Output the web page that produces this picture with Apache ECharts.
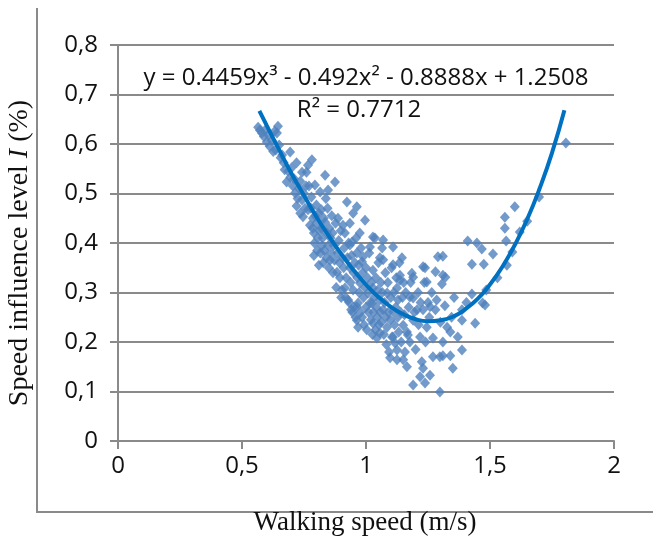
<!DOCTYPE html>
<html>
<head>
<meta charset="utf-8">
<script src="https://cdn.jsdelivr.net/npm/echarts@6/dist/echarts.min.js"></script>
<style>html,body{margin:0;padding:0;background:#fff;}#c{width:653px;height:545px;}</style>
</head>
<body>
<div id="c"></div>
<script>
// Tick values
const xTicks = [0, 0.5, 1, 1.5, 2];
const yTicks = [0, 0.1, 0.2, 0.3, 0.4, 0.5, 0.6, 0.7, 0.8];

// Observed points [walking speed (m/s), speed influence level]
const pointsA = [[0.565,0.634],[0.572,0.628],[0.58,0.622],[0.588,0.615],[0.593,0.628],[0.60,0.604],[0.606,0.618],[0.612,0.595],[0.62,0.607],[0.626,0.585],[0.632,0.626],[0.636,0.588],[0.641,0.622],[0.645,0.636],[0.65,0.598],[0.656,0.572],[0.662,0.578]];
const pointsB = [[0.668,0.562],[0.672,0.548],[0.68,0.523],[0.686,0.545],[0.694,0.584],[0.695,0.533],[0.70,0.552],[0.705,0.515],[0.71,0.53],[0.714,0.501],[0.72,0.562],[0.724,0.49],[0.73,0.51],[0.735,0.525],[0.742,0.543],[0.742,0.487],[0.746,0.453],[0.75,0.5],[0.754,0.47],[0.758,0.515],[0.76,0.543],[0.766,0.557],[0.766,0.467],[0.72,0.475],[0.735,0.46]];
const pointsC = [[0.77,0.515],[0.774,0.436],[0.778,0.47],[0.78,0.493],[0.782,0.568],[0.785,0.43],[0.786,0.45],[0.79,0.42],[0.792,0.40],[0.794,0.517],[0.796,0.455],[0.80,0.477],[0.80,0.44],[0.803,0.385],[0.806,0.41],[0.81,0.46],[0.812,0.425],[0.815,0.503],[0.816,0.38],[0.82,0.467],[0.82,0.43],[0.822,0.395],[0.825,0.41],[0.828,0.36],[0.83,0.45],[0.832,0.385],[0.835,0.537],[0.835,0.442],[0.838,0.49],[0.84,0.37],[0.842,0.42],[0.845,0.47],[0.847,0.507],[0.848,0.395],[0.85,0.35],[0.852,0.43],[0.855,0.365],[0.857,0.41],[0.86,0.38],[0.862,0.455],[0.79,0.375],[0.81,0.355]];
const pointsD = [[0.865,0.42],[0.867,0.34],[0.87,0.395],[0.873,0.365],[0.875,0.523],[0.877,0.44],[0.88,0.31],[0.883,0.341],[0.885,0.38],[0.887,0.45],[0.89,0.405],[0.893,0.36],[0.895,0.33],[0.898,0.425],[0.90,0.29],[0.903,0.305],[0.905,0.37],[0.907,0.436],[0.91,0.35],[0.912,0.39],[0.915,0.42],[0.915,0.309],[0.918,0.29],[0.92,0.33],[0.923,0.483],[0.925,0.37],[0.928,0.285],[0.93,0.4],[0.932,0.28],[0.935,0.44],[0.935,0.35],[0.935,0.396],[0.938,0.32],[0.94,0.265],[0.942,0.375],[0.944,0.402],[0.945,0.26],[0.948,0.46],[0.948,0.305],[0.95,0.34],[0.952,0.27],[0.955,0.36],[0.958,0.25],[0.96,0.41],[0.963,0.473],[0.963,0.38],[0.963,0.271],[0.963,0.244]];
const pointsE = [[0.965,0.33],[0.968,0.279],[0.968,0.23],[0.97,0.355],[0.972,0.3],[0.975,0.42],[0.976,0.319],[0.978,0.26],[0.98,0.39],[0.984,0.362],[0.984,0.25],[0.986,0.34],[0.988,0.372],[0.99,0.29],[0.992,0.235],[0.995,0.31],[0.996,0.446],[1.0,0.27],[1.0,0.35],[1.003,0.225],[1.006,0.33],[1.008,0.299],[1.01,0.26],[1.013,0.38],[1.016,0.392],[1.016,0.279],[1.02,0.245],[1.022,0.32],[1.024,0.279],[1.026,0.215],[1.028,0.345],[1.028,0.309],[1.028,0.238],[1.028,0.412],[1.03,0.26],[1.033,0.29],[1.036,0.41],[1.038,0.225],[1.04,0.33],[1.042,0.27],[1.044,0.208],[1.046,0.25],[1.048,0.305],[1.05,0.36],[1.052,0.235],[1.055,0.285],[1.056,0.37],[1.056,0.218],[1.058,0.26],[1.06,0.32]];
const pointsF = [[1.062,0.24],[1.065,0.39],[1.066,0.3],[1.069,0.406],[1.069,0.366],[1.069,0.265],[1.072,0.215],[1.075,0.28],[1.078,0.34],[1.08,0.25],[1.082,0.195],[1.085,0.299],[1.085,0.23],[1.088,0.32],[1.09,0.26],[1.093,0.18],[1.097,0.168],[1.098,0.245],[1.1,0.29],[1.103,0.35],[1.105,0.21],[1.109,0.392],[1.109,0.356],[1.109,0.261],[1.109,0.21],[1.112,0.3],[1.115,0.235],[1.117,0.198],[1.12,0.27],[1.122,0.33],[1.125,0.309],[1.125,0.184],[1.125,0.164],[1.128,0.25],[1.129,0.285],[1.132,0.22],[1.135,0.36],[1.137,0.335],[1.137,0.325],[1.14,0.26],[1.142,0.2],[1.145,0.37],[1.147,0.29],[1.15,0.234],[1.15,0.164],[1.152,0.32],[1.155,0.255],[1.157,0.18],[1.16,0.3]];
const pointsG = [[1.165,0.22],[1.165,0.15],[1.169,0.214],[1.172,0.27],[1.177,0.291],[1.177,0.2],[1.18,0.32],[1.185,0.339],[1.19,0.331],[1.19,0.289],[1.19,0.244],[1.19,0.113],[1.195,0.26],[1.2,0.185],[1.206,0.265],[1.21,0.3],[1.212,0.235],[1.218,0.21],[1.218,0.13],[1.22,0.28],[1.225,0.16],[1.23,0.352],[1.23,0.265],[1.23,0.147],[1.235,0.32],[1.238,0.35],[1.238,0.117],[1.24,0.2],[1.245,0.321],[1.245,0.23],[1.25,0.28],[1.255,0.25],[1.258,0.271],[1.258,0.133]];
const pointsH = [[1.265,0.3],[1.27,0.208],[1.27,0.17],[1.28,0.342],[1.28,0.265],[1.285,0.285],[1.29,0.372],[1.298,0.17],[1.298,0.099],[1.3,0.24],[1.306,0.317],[1.31,0.373],[1.31,0.335],[1.31,0.2],[1.31,0.172],[1.318,0.273],[1.32,0.331],[1.327,0.23],[1.34,0.22],[1.34,0.172],[1.345,0.25],[1.35,0.147],[1.355,0.29]];
const pointsI = [[1.37,0.21],[1.387,0.265],[1.387,0.244],[1.387,0.184],[1.405,0.28],[1.41,0.404],[1.427,0.357],[1.427,0.297],[1.44,0.238],[1.447,0.4],[1.467,0.388],[1.47,0.279],[1.475,0.357],[1.48,0.275],[1.485,0.305],[1.512,0.378],[1.53,0.33],[1.56,0.452],[1.56,0.43],[1.565,0.404],[1.568,0.355],[1.59,0.382],[1.60,0.473],[1.62,0.422],[1.65,0.444],[1.698,0.493],[1.806,0.602]];

// Trend line (cubic fit)
const trendX = [0.57,0.6,0.65,0.7,0.75,0.8,0.85,0.9,0.95,1.0,1.05,1.1,1.15,1.2,1.25,1.3,1.35,1.4,1.45,1.5,1.55,1.6,1.65,1.7,1.75,1.8];
const trendY = [0.667,0.637,0.588,0.540,0.496,0.453,0.414,0.378,0.345,0.316,0.291,0.271,0.256,0.246,0.242,0.244,0.251,0.266,0.287,0.316,0.352,0.396,0.448,0.510,0.582,0.668];

const equationText = 'y = 0.4459x\u00B3 - 0.492x\u00B2 - 0.8888x + 1.2508';
const r2Text = 'R\u00B2 = 0.7712';

const scatterData = [].concat(pointsA, pointsB, pointsC, pointsD, pointsE, pointsF, pointsG, pointsH, pointsI);
const trendData = trendX.map((x, i) => [x, trendY[i]]);

const grey = '#8a8a8a';
const fmt = v => (v === 0 ? '0' : String(+v.toFixed(1)).replace('.', ','));

const chart = echarts.init(document.getElementById('c'), null, {renderer: 'canvas'});
chart.setOption({
  animation: false,
  backgroundColor: '#fff',
  grid: {left: 118, right: 39, top: 45, bottom: 104, containLabel: false},
  xAxis: {
    type: 'value', min: 0, max: 2, interval: 0.5,
    axisLine: {show: true, lineStyle: {color: grey, width: 2}},
    axisTick: {show: true, length: 8, lineStyle: {color: grey, width: 2}},
    splitLine: {show: false},
    axisLabel: {formatter: fmt, color: '#111', fontSize: 24, fontFamily: 'Open Sans', margin: 13}
  },
  yAxis: {
    type: 'value', min: 0, max: 0.8, interval: 0.1,
    axisLine: {show: true, lineStyle: {color: grey, width: 2}},
    axisTick: {show: true, length: 8, lineStyle: {color: grey, width: 2}},
    splitLine: {show: true, lineStyle: {color: grey, width: 2}},
    axisLabel: {formatter: fmt, color: '#111', fontSize: 24, fontFamily: 'Open Sans', margin: 20}
  },
  series: [
    {
      type: 'scatter', data: scatterData, symbol: 'diamond', symbolSize: [10, 11],
      itemStyle: {color: '#4F81BD'}, z: 2
    },
    {
      type: 'line', data: trendData, smooth: true, showSymbol: false,
      lineStyle: {color: '#0070C0', width: 4}, z: 3
    }
  ],
  graphic: [
    {type: 'line', shape: {x1: 37, y1: 8, x2: 37, y2: 512}, style: {stroke: grey, lineWidth: 2}},
    {type: 'line', shape: {x1: 36, y1: 512, x2: 653, y2: 512}, style: {stroke: grey, lineWidth: 2}},
    {type: 'text', x: 366, y: 78, style: {text: equationText, fontSize: 24, fontFamily: 'Open Sans', fill: '#111', align: 'center', verticalAlign: 'middle'}},
    {type: 'text', x: 359, y: 110, style: {text: r2Text, fontSize: 24, fontFamily: 'Open Sans', fill: '#111', align: 'center', verticalAlign: 'middle'}},
    {type: 'text', x: 365, y: 523, style: {text: 'Walking speed (m/s)', fontSize: 27, fontFamily: 'Liberation Serif', fill: '#111', align: 'center', verticalAlign: 'middle'}},
    {type: 'text', x: 20, y: 253, rotation: Math.PI / 2,
      style: {
        text: '{a|Speed influence level }{i|I}{a| (%)}', align: 'center', verticalAlign: 'middle',
        rich: {
          a: {fontSize: 28, fontFamily: 'Liberation Serif', fill: '#111'},
          i: {fontSize: 28, fontFamily: 'Liberation Serif', fontStyle: 'italic', fill: '#111'}
        }
      }}
  ]
});
</script>
</body>
</html>
